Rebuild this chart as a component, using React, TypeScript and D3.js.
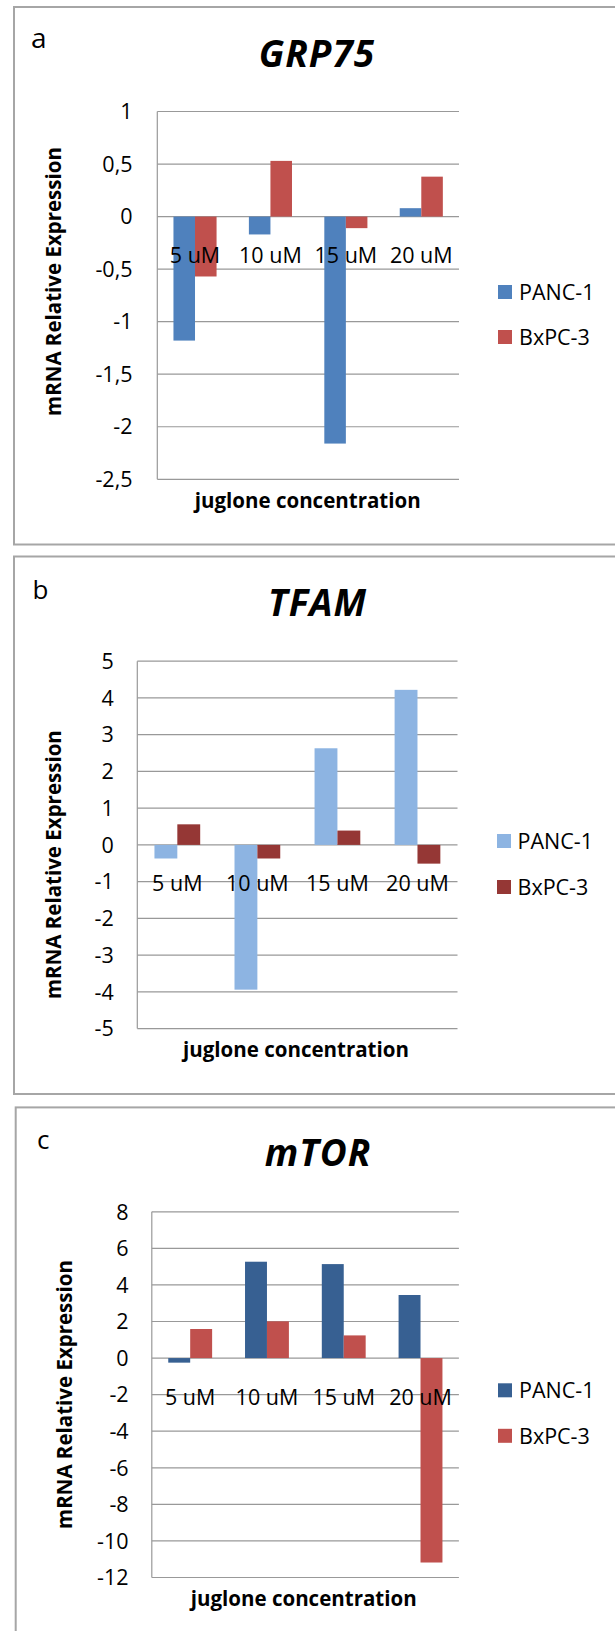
import React from "react";
import * as d3 from "d3";

const categories = ["5 uM", "10 uM", "15 uM", "20 uM"];
const seriesNames = ["PANC-1", "BxPC-3"];

const grp75Panc1 = [-1.18, -0.17, -2.16, 0.08];
const grp75BxPC3 = [-0.57, 0.53, -0.11, 0.38];
const tfamPanc1 = [-0.37, -3.94, 2.63, 4.22];
const tfamBxPC3 = [0.56, -0.37, 0.39, -0.51];
const mtorPanc1 = [-0.25, 5.27, 5.14, 3.45];
const mtorBxPC3 = [1.59, 2.01, 1.24, -11.18];

const grp75Ticks = [1, 0.5, 0, -0.5, -1, -1.5, -2, -2.5];
const grp75TickLabels = ["1", "0,5", "0", "-0,5", "-1", "-1,5", "-2", "-2,5"];
const tfamTicks = [5, 4, 3, 2, 1, 0, -1, -2, -3, -4, -5];
const tfamTickLabels = ["5", "4", "3", "2", "1", "0", "-1", "-2", "-3", "-4", "-5"];
const mtorTicks = [8, 6, 4, 2, 0, -2, -4, -6, -8, -10, -12];
const mtorTickLabels = ["8", "6", "4", "2", "0", "-2", "-4", "-6", "-8", "-10", "-12"];

const FONT = "'Open Sans', 'DejaVu Sans', sans-serif";
const GRID = "#999999";
const FRAME = "#a6a6a6";

type PanelSpec = {
  letter: string;
  title: string;
  series: number[][];
  colors: string[];
  ticks: number[];
  tickLabels: string[];
  frame: { x: number; y: number; h: number };
  letterPos: { x: number; y: number; size: number };
  titlePos: { x: number; y: number };
  plot: { left: number; right: number; top: number; bottom: number };
  tickRight: number;
  yTitle: { x: number; y: number };
  xTitle: { x: number; y: number };
  legend: { sx: number; tx: number; ys: number[] };
};

const panels: PanelSpec[] = [
  {
    letter: "a",
    title: "GRP75",
    series: [grp75Panc1, grp75BxPC3],
    colors: ["#4F81BD", "#C0504D"],
    ticks: grp75Ticks,
    tickLabels: grp75TickLabels,
    frame: { x: 14, y: 7, h: 537.5 },
    letterPos: { x: 31, y: 48, size: 28 },
    titlePos: { x: 317, y: 67 },
    plot: { left: 157.3, right: 459, top: 111.5, bottom: 479.3 },
    tickRight: 132.5,
    yTitle: { x: 61, y: 281.5 },
    xTitle: { x: 307.7, y: 507.5 },
    legend: { sx: 498, tx: 519, ys: [292, 337] },
  },
  {
    letter: "b",
    title: "TFAM",
    series: [tfamPanc1, tfamBxPC3],
    colors: ["#8DB4E2", "#953735"],
    ticks: tfamTicks,
    tickLabels: tfamTickLabels,
    frame: { x: 14, y: 556.5, h: 537.5 },
    letterPos: { x: 32.5, y: 598.5, size: 26 },
    titlePos: { x: 317.6, y: 616.4 },
    plot: { left: 137.3, right: 457.5, top: 661.2, bottom: 1028.6 },
    tickRight: 113.7,
    yTitle: { x: 61, y: 864.6 },
    xTitle: { x: 296, y: 1056.5 },
    legend: { sx: 497, tx: 517.5, ys: [841, 887] },
  },
  {
    letter: "c",
    title: "mTOR",
    series: [mtorPanc1, mtorBxPC3],
    colors: ["#376092", "#C0504D"],
    ticks: mtorTicks,
    tickLabels: mtorTickLabels,
    frame: { x: 15.7, y: 1107.4, h: 600 },
    letterPos: { x: 37, y: 1148.5, size: 26 },
    titlePos: { x: 318, y: 1166 },
    plot: { left: 151.8, right: 458.9, top: 1211.8, bottom: 1577.5 },
    tickRight: 128.6,
    yTitle: { x: 72, y: 1394.5 },
    xTitle: { x: 303.7, y: 1605.5 },
    legend: { sx: 498, tx: 519, ys: [1390.3, 1435.8] },
  },
];

function Panel({ p }: { p: PanelSpec }) {
  const { plot } = p;
  const [ymin, ymax] = d3.extent(p.ticks) as [number, number];
  const y = d3.scaleLinear().domain([ymin, ymax]).range([plot.bottom, plot.top]);
  const x = d3
    .scaleBand<string>()
    .domain(categories)
    .range([plot.left, plot.right])
    .paddingInner(1.5 / 3.5)
    .paddingOuter(0.75 / 3.5);
  const xs = d3.scaleBand<string>().domain(seriesNames).range([0, x.bandwidth()]);
  const y0 = y(0);

  return (
    <g>
      <rect
        x={p.frame.x}
        y={p.frame.y}
        width={700}
        height={p.frame.h}
        fill="#ffffff"
        stroke={FRAME}
        strokeWidth={2}
      />
      <text x={p.letterPos.x} y={p.letterPos.y} fontSize={p.letterPos.size} fontFamily={FONT} fill="#000">
        {p.letter}
      </text>
      <text
        x={p.titlePos.x}
        y={p.titlePos.y}
        fontSize={37}
        letterSpacing={1}
        fontFamily={FONT}
        fontWeight="bold"
        fontStyle="italic"
        textAnchor="middle"
        fill="#000"
      >
        {p.title}
      </text>
      {p.ticks.map((t, i) => (
        <g key={"t" + i}>
          <line x1={plot.left} x2={plot.right} y1={y(t)} y2={y(t)} stroke={GRID} strokeWidth={1.2} />
          <text
            x={p.tickRight}
            y={y(t)}
            dy="0.36em"
            fontSize={21.5}
            fontFamily={FONT}
            textAnchor="end"
            fill="#000"
          >
            {p.tickLabels[i]}
          </text>
        </g>
      ))}
      <line x1={plot.left} x2={plot.left} y1={plot.top} y2={plot.bottom} stroke={GRID} strokeWidth={1.2} />
      {p.series.map((vals, si) =>
        vals.map((v, ci) => {
          const bx = (x(categories[ci]) as number) + (xs(seriesNames[si]) as number);
          const yv = y(v);
          return (
            <rect
              key={"b" + si + "-" + ci}
              x={bx}
              y={Math.min(yv, y0)}
              width={xs.bandwidth()}
              height={Math.abs(yv - y0)}
              fill={p.colors[si]}
            />
          );
        })
      )}
      {categories.map((c) => (
        <text
          key={c}
          x={(x(c) as number) + x.bandwidth() / 2}
          y={y0 + 46.5}
          fontSize={21.5}
          fontFamily={FONT}
          textAnchor="middle"
          fill="#000"
        >
          {c}
        </text>
      ))}
      <text
        transform={`translate(${p.yTitle.x},${p.yTitle.y}) rotate(-90)`}
        fontSize={20.5}
        fontFamily={FONT}
        fontWeight="bold"
        textAnchor="middle"
        fill="#000"
      >
        mRNA Relative Expression
      </text>
      <text
        x={p.xTitle.x}
        y={p.xTitle.y}
        fontSize={20.5}
        fontFamily={FONT}
        fontWeight="bold"
        textAnchor="middle"
        fill="#000"
      >
        juglone concentration
      </text>
      {seriesNames.map((s, si) => (
        <g key={s}>
          <rect x={p.legend.sx} y={p.legend.ys[si] - 7} width={14} height={14} fill={p.colors[si]} />
          <text
            x={p.legend.tx}
            y={p.legend.ys[si]}
            dy="0.36em"
            fontSize={21.5}
            fontFamily={FONT}
            fill="#000"
          >
            {s}
          </text>
        </g>
      ))}
    </g>
  );
}

export default function App() {
  return (
    <>
      <style>{"body{margin:0;}"}</style>
      <svg width={615} height={1631} style={{ display: "block", background: "#fff" }}>
        <rect x={0} y={0} width={615} height={1631} fill="#fff" />
        {panels.map((p) => (
          <Panel key={p.letter} p={p} />
        ))}
      </svg>
    </>
  );
}
